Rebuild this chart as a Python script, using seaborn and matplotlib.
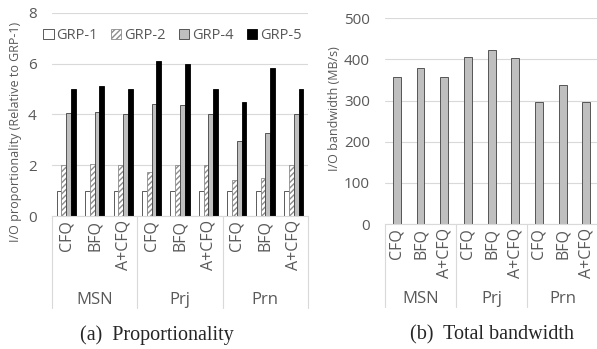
import pandas as pd
import matplotlib.pyplot as plt
import seaborn as sns
from matplotlib.patches import Patch
from matplotlib.transforms import blended_transform_factory

# data
workloads = ['MSN', 'Prj', 'Prn']
schedulers = ['CFQ', 'BFQ', 'A+CFQ']
groups = ['GRP-1', 'GRP-2', 'GRP-4', 'GRP-5']

grp1 = [1, 1, 1, 1, 1, 1, 1, 1, 1]
grp2 = [2.0, 2.05, 2.0, 1.75, 2.02, 2.0, 1.42, 1.5, 2.0]
grp4 = [4.05, 4.1, 4.02, 4.42, 4.37, 4.0, 2.96, 3.28, 4.0]
grp5 = [5.0, 5.12, 5.0, 6.12, 5.97, 5.0, 4.5, 5.82, 5.0]
bandwidth = [358, 378, 358, 405, 423, 403, 297, 338, 297]

cats = [w + '-' + s for w in workloads for s in schedulers]

prop = pd.DataFrame({
    'cat': cats * 4,
    'group': [g for g in groups for _ in cats],
    'value': grp1 + grp2 + grp4 + grp5,
})
bw = pd.DataFrame({'cat': cats, 'bw': bandwidth})

sns.set_style('white')
plt.rcParams['font.family'] = ['Open Sans', 'DejaVu Sans']
txt = '#595959'
grid = '#d9d9d9'
edge = '#404040'

fig = plt.figure(figsize=(5.97, 3.49), dpi=100)
ax1 = fig.add_axes([0.087, 0.381, 0.429, 0.582])
ax2 = fig.add_axes([0.645, 0.358, 0.357, 0.590])

# (a) proportionality
styles = [('white', '', edge), ('white', '//////', '#8c8c8c'),
          ('#bfbfbf', '', edge), ('black', '', 'black')]
sns.barplot(data=prop, x='cat', y='value', hue='group', order=cats,
            hue_order=groups, width=0.67, ax=ax1, legend=False,
            palette=[s[0] for s in styles])
for cont, (fc, h, ec) in zip(ax1.containers, styles):
    for bar in cont:
        bar.set_facecolor(fc)
        bar.set_edgecolor(ec)
        bar.set_linewidth(0.6)
        bar.set_hatch(h)
ax1.set_ylim(0, 8)
ax1.set_yticks([0, 2, 4, 6, 8])
ax1.set_ylabel('I/O proportionality (Relative to GRP-1)', color=txt, fontsize=9)
ax1.yaxis.set_label_coords(-0.117, 0.414)

handles = [Patch(facecolor=fc, edgecolor=ec, hatch=h, linewidth=0.6)
           for fc, h, ec in styles]
ax1.legend(handles, groups, ncol=4, loc='center',
           bbox_to_anchor=(0.47, 0.89), frameon=False, fontsize=10.5,
           handlelength=0.7, handleheight=0.7, handletextpad=0.2,
           columnspacing=0.9, labelcolor=txt, borderaxespad=0)

# (b) bandwidth
sns.barplot(data=bw, x='cat', y='bw', order=cats, color='#bfbfbf',
            width=0.33, ax=ax2, edgecolor=edge, linewidth=0.6)
ax2.set_ylim(0, 500)
ax2.set_yticks(range(0, 501, 100))
ax2.set_ylabel('I/O bandwidth (MB/s)', color=txt, fontsize=9)
ax2.yaxis.set_label_coords(-0.207, 0.563)

for ax, lab_y, line_y in [(ax1, -0.414, -0.453), (ax2, -0.364, -0.403)]:
    ax.set_xlabel('')
    ax.set_xticks(range(len(cats)))
    ax.set_xticklabels(schedulers * 3, rotation=90, color=txt, fontsize=11.5)
    ax.tick_params(axis='both', length=0, pad=3, labelcolor=txt)
    ax.tick_params(axis='y', labelsize=11, pad=11)
    ax.set_xlim(-0.5, len(cats) - 0.5)
    ax.grid(axis='y', color=grid, linewidth=0.8)
    ax.set_axisbelow(True)
    for s in ['top', 'right', 'left']:
        ax.spines[s].set_visible(False)
    ax.spines['bottom'].set_color(grid)
    tr = blended_transform_factory(ax.transData, ax.transAxes)
    for xs in [-0.5, 2.5, 5.5, 8.5]:
        ax.plot([xs, xs], [0, line_y], color=grid, linewidth=0.8,
                transform=tr, clip_on=False)
    for i, w in enumerate(workloads):
        ax.text(3 * i + 1, lab_y, w, transform=tr, ha='center', va='center',
                color=txt, fontsize=12)

fig.text(0.263, 0.04, '(a)  Proportionality', ha='center', va='center',
         family='Liberation Serif', fontsize=14.5)
fig.text(0.824, 0.04, '(b)  Total bandwidth', ha='center', va='center',
         family='Liberation Serif', fontsize=14.5)

fig.savefig('out.png', dpi=100)
